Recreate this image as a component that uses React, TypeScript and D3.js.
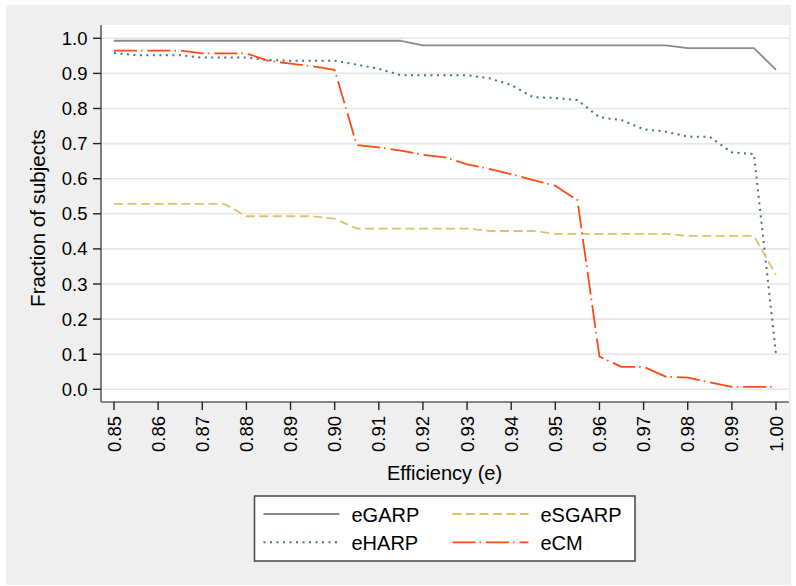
import * as d3 from "d3"

const efficiency = [
  0.85, 0.855, 0.86, 0.865, 0.87, 0.875, 0.88, 0.885, 0.89, 0.895, 0.9, 0.905, 0.91, 0.915, 0.92, 0.925,
  0.93, 0.935, 0.94, 0.945, 0.95, 0.955, 0.96, 0.965, 0.97, 0.975, 0.98, 0.985, 0.99, 0.995, 1.0,
]

const eGARP = [
  0.993, 0.993, 0.993, 0.993, 0.993, 0.993, 0.993, 0.993, 0.993, 0.993, 0.993, 0.993, 0.993, 0.993, 0.98, 0.98,
  0.98, 0.98, 0.98, 0.98, 0.98, 0.98, 0.98, 0.98, 0.98, 0.98, 0.972, 0.972, 0.972, 0.972, 0.91,
]

const eHARP = [
  0.958, 0.952, 0.952, 0.952, 0.945, 0.945, 0.945, 0.938, 0.936, 0.936, 0.936, 0.925, 0.913, 0.895, 0.895, 0.895,
  0.895, 0.886, 0.867, 0.832, 0.83, 0.824, 0.775, 0.767, 0.741, 0.734, 0.72, 0.719, 0.675, 0.67, 0.1,
]

const eSGARP = [
  0.528, 0.528, 0.528, 0.528, 0.528, 0.528, 0.493, 0.493, 0.493, 0.493, 0.486, 0.458, 0.458, 0.458, 0.458, 0.458,
  0.458, 0.451, 0.451, 0.451, 0.443, 0.443, 0.443, 0.443, 0.443, 0.443, 0.437, 0.437, 0.437, 0.437, 0.326,
]

const eCM = [
  0.965, 0.965, 0.965, 0.965, 0.957, 0.957, 0.957, 0.936, 0.928, 0.92, 0.91, 0.696, 0.689, 0.68, 0.668, 0.661,
  0.641, 0.628, 0.613, 0.596, 0.58, 0.539, 0.093, 0.064, 0.064, 0.036, 0.033, 0.02, 0.007, 0.007, 0.007,
]

const xTicks = [0.85, 0.86, 0.87, 0.88, 0.89, 0.9, 0.91, 0.92, 0.93, 0.94, 0.95, 0.96, 0.97, 0.98, 0.99, 1.0]
const yTicks = [0, 0.1, 0.2, 0.3, 0.4, 0.5, 0.6, 0.7, 0.8, 0.9, 1.0]

const series = [
  { name: "eGARP", values: eGARP, color: "#8a8a8a", dash: "none" },
  { name: "eHARP", values: eHARP, color: "#4b6c88", dash: "2 4.5" },
  { name: "eSGARP", values: eSGARP, color: "#dcc265", dash: "9 4.5" },
  { name: "eCM", values: eCM, color: "#ff4a10", dash: "23 4 1.5 5" },
]

const W = 796
const H = 586
const plot = { left: 101, right: 789, top: 25, bottom: 402 }
const font = "'Liberation Sans', Arial, Helvetica, sans-serif"

export default function App() {
  const x = d3.scaleLinear().domain([0.85, 1.0]).range([114, 776])
  const y = d3.scaleLinear().domain([0, 1]).range([389.3, 38.3])

  const line = d3
    .line<number>()
    .x((_, i) => x(efficiency[i]))
    .y((d) => y(d))

  // legend: 2 columns x 2 rows, filled row-wise like Stata
  const legendOrder = [series[0], series[2], series[1], series[3]]
  const legendBox = { x: 254.5, y: 496, w: 380.5, h: 65 }

  return (
    <svg
      width={W}
      height={H}
      style={{ position: "absolute", left: 0, top: 0, fontFamily: font }}
    >
      <rect x={0} y={0} width={W} height={H} fill="#ffffff" />
      <rect x={6} y={5} width={785} height={580} fill="#efefef" />
      <rect
        x={plot.left}
        y={plot.top}
        width={plot.right - plot.left}
        height={plot.bottom - plot.top}
        fill="#ffffff"
      />

      {/* gridlines */}
      {yTicks.map((t) => (
        <line
          key={"g" + t}
          x1={plot.left}
          x2={plot.right}
          y1={y(t)}
          y2={y(t)}
          stroke="#e6e6e6"
          strokeWidth={1.6}
        />
      ))}

      {/* series */}
      {series.map((s) => (
        <path
          key={s.name}
          d={line(s.values) ?? ""}
          fill="none"
          stroke={s.color}
          strokeWidth={s.name === "eHARP" ? 2 : 1.8}
          strokeDasharray={s.dash}
          strokeLinecap="butt"
          strokeLinejoin="round"
        />
      ))}

      {/* axes */}
      <line x1={plot.left} x2={plot.left} y1={plot.top} y2={plot.bottom} stroke="#5f5f5f" strokeWidth={1.6} />
      <line x1={plot.left} x2={plot.right} y1={plot.bottom} y2={plot.bottom} stroke="#5f5f5f" strokeWidth={1.6} />

      {yTicks.map((t) => (
        <g key={"y" + t}>
          <line x1={plot.left - 8} x2={plot.left} y1={y(t)} y2={y(t)} stroke="#222" strokeWidth={1.4} />
          <text
            x={plot.left - 13.5}
            y={y(t)}
            textAnchor="end"
            dominantBaseline="central"
            fontSize={18.5}
            fill="#000"
          >
            {d3.format(".1f")(t)}
          </text>
        </g>
      ))}

      {xTicks.map((t) => (
        <g key={"x" + t}>
          <line x1={x(t)} x2={x(t)} y1={plot.bottom} y2={plot.bottom + 8} stroke="#222" strokeWidth={1.4} />
          <text
            transform={`translate(${x(t)},${plot.bottom + 14}) rotate(-90)`}
            textAnchor="end"
            dominantBaseline="central"
            fontSize={18.5}
            fill="#000"
          >
            {d3.format(".2f")(t)}
          </text>
        </g>
      ))}

      <text x={444.5} y={480} textAnchor="middle" fontSize={20} fill="#000">
        Efficiency (e)
      </text>
      <text
        transform={`translate(45,218) rotate(-90)`}
        textAnchor="middle"
        fontSize={20.5}
        fill="#000"
      >
        Fraction of subjects
      </text>

      {/* legend */}
      <rect
        x={legendBox.x}
        y={legendBox.y}
        width={legendBox.w}
        height={legendBox.h}
        fill="#ffffff"
        stroke="#444"
        strokeWidth={1.5}
      />
      {legendOrder.map((s, i) => {
        const col = i % 2
        const row = Math.floor(i / 2)
        const lx = legendBox.x + 9 + col * 189
        const ly = legendBox.y + 18 + row * 28.3
        return (
          <g key={"l" + s.name}>
            <line
              x1={lx}
              x2={lx + 76}
              y1={ly}
              y2={ly}
              stroke={s.color}
              strokeWidth={s.name === "eHARP" ? 2 : 1.8}
              strokeDasharray={s.dash}
            />
            <text x={lx + 88} y={ly + 1} dominantBaseline="central" fontSize={20} fill="#000">
              {s.name}
            </text>
          </g>
        )
      })}
    </svg>
  )
}
